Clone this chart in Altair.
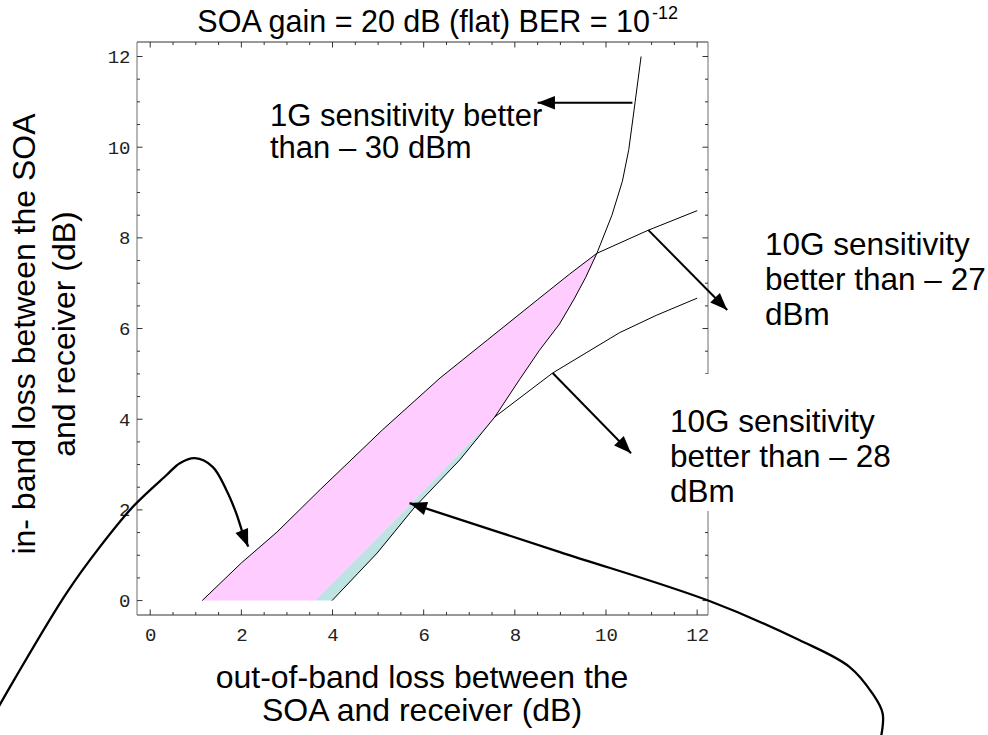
import math
import altair as alt
import pandas as pd

# ---------------- data ----------------
x_tick_values = [0, 2, 4, 6, 8, 10, 12]
y_tick_values = [0, 2, 4, 6, 8, 10, 12]
minor_tick_values = [0, 0.5, 1, 1.5, 2, 2.5, 3, 3.5, 4, 4.5, 5, 5.5, 6, 6.5,
                     7, 7.5, 8, 8.5, 9, 9.5, 10, 10.5, 11, 11.5, 12]

# 10G, sensitivity better than -27 dBm (upper boundary)
c27_x = [1.14, 2.0, 2.78, 3.73, 5.09, 6.36, 7.4, 8.49, 9.2, 9.8, 10.93, 12.0]
c27_y = [0.0, 0.83, 1.51, 2.45, 3.76, 4.91, 5.75, 6.63, 7.2, 7.66, 8.17, 8.6]
# 1G, sensitivity better than -30 dBm
c1g_x = [7.56, 8.1, 8.54, 8.98, 9.3, 9.55, 9.8, 10.13, 10.36, 10.5, 10.64, 10.77]
c1g_y = [4.05, 4.87, 5.52, 6.1, 6.65, 7.12, 7.66, 8.5, 9.25, 9.95, 11.0, 12.0]
# 10G, sensitivity better than -28 dBm
c28_x = [3.99, 4.98, 5.81, 6.79, 7.56, 8.83, 10.3, 11.1, 12.0]
c28_y = [0.0, 1.05, 2.07, 3.1, 4.05, 5.02, 5.91, 6.29, 6.67]
# lower edge of the pink region (below the -28 curve crossing)
pink_edge_x = [7.48, 5.66, 3.62]
pink_edge_y = [3.97, 2.07, 0.0]

# annotation arrows (tail ... tip)
arrow_1g_x = [10.58, 8.50]
arrow_1g_y = [10.98, 10.98]
arrow_27_x = [10.93, 12.66]
arrow_27_y = [8.17, 6.41]
arrow_28_x = [8.83, 10.55]
arrow_28_y = [5.02, 3.25]
curve_left_x = [-3.74, -2.97, -1.84, -1.10, -0.37, 0.36, 0.65, 0.98, 1.37, 1.67, 1.89, 2.03, 2.15]
curve_left_y = [-3.08, -1.72, 0.16, 1.19, 2.08, 2.77, 3.03, 3.14, 2.95, 2.44, 1.92, 1.49, 1.19]
curve_right_x = [16.02, 16.07, 15.84, 15.34, 14.24, 12.27, 8.99, 5.69]
curve_right_y = [-3.08, -2.49, -2.04, -1.46, -0.87, -0.01, 1.07, 2.15]

title_text = "SOA gain = 20 dB (flat) BER = 10"
title_sup = "-12"
x_title_lines = ["out-of-band loss between the", "SOA and receiver (dB)"]
y_title_lines = ["in- band loss between the SOA", "and receiver (dB)"]
label_1g = ["1G sensitivity better", "than \u2013 30 dBm"]
label_27 = ["10G sensitivity", "better than \u2013 27", "dBm"]
label_28 = ["10G sensitivity", "better than \u2013 28", "dBm"]

# ---------------- layout ----------------
W, H = 571, 573
PAD = {"left": 137, "top": 42, "right": 280, "bottom": 120}
X_DOM = [-0.29, 12.238]
Y_DOM = [-0.318, 12.32]
PX_X = W / (X_DOM[1] - X_DOM[0])
PX_Y = H / (Y_DOM[1] - Y_DOM[0])


def to_x(px):
    return X_DOM[0] + (px - PAD["left"]) / PX_X


def to_y(py):
    return Y_DOM[1] - (py - PAD["top"]) / PX_Y


PINK = "#FFCCFF"
TEAL = "#BFE2E3"
FONT = "Liberation Sans"

xs = alt.Scale(domain=X_DOM, nice=False, zero=False)
ys = alt.Scale(domain=Y_DOM, nice=False, zero=False)
x_axis = alt.Axis(values=x_tick_values, ticks=False, domain=False, grid=False,
                  labelFont="Liberation Mono", labelFontSize=19, labelColor="#222",
                  labelPadding=10, labelFlush=False, title=None)
y_axis = alt.Axis(values=y_tick_values, ticks=False, domain=False, grid=False,
                  labelFont="Liberation Mono", labelFontSize=19, labelColor="#222",
                  labelPadding=7, labelFlush=False, title=None)
X = alt.X("x:Q", scale=xs, axis=x_axis)
Y = alt.Y("y:Q", scale=ys, axis=y_axis)


def poly(xv, yv):
    return pd.DataFrame({"x": xv, "y": yv, "i": list(range(len(xv)))})


# ---------------- frame & ticks ----------------
frame_df = pd.DataFrame({
    "x": [X_DOM[0], X_DOM[0], X_DOM[0], X_DOM[1]],
    "x2": [X_DOM[1], X_DOM[1], X_DOM[0], X_DOM[1]],
    "y": [Y_DOM[0], Y_DOM[1], Y_DOM[0], Y_DOM[0]],
    "y2": [Y_DOM[0], Y_DOM[1], Y_DOM[1], Y_DOM[1]],
    "c": ["#333333", "#333333", "#6e6e6e", "#6e6e6e"],
})
frame = alt.Chart(frame_df).mark_rule(strokeWidth=1).encode(
    x=X, x2="x2:Q", y=Y, y2="y2:Q", color=alt.Color("c:N", scale=None))

MAJ, MIN = 5.5, 3.0
rows = []
for t in minor_tick_values:
    L = MAJ if t in x_tick_values else MIN
    ly, lx = L / PX_Y, L / PX_X
    rows.append((t, t, Y_DOM[0], Y_DOM[0] + ly))   # bottom
    rows.append((t, t, Y_DOM[1], Y_DOM[1] - ly))   # top
    rows.append((X_DOM[0], X_DOM[0] + lx, t, t))   # left
    rows.append((X_DOM[1], X_DOM[1] - lx, t, t))   # right
ticks_df = pd.DataFrame(rows, columns=["x", "x2", "y", "y2"])
ticks = alt.Chart(ticks_df).mark_rule(strokeWidth=1, color="#333333").encode(
    x=X, x2="x2:Q", y=Y, y2="y2:Q")

# ---------------- filled regions ----------------
pink_x = c27_x[:10] + c1g_x[:6][::-1] + pink_edge_x
pink_y = c27_y[:10] + c1g_y[:6][::-1] + pink_edge_y
teal_x = [pink_edge_x[-1]] + c28_x[:5] + pink_edge_x[:2]
teal_y = [pink_edge_y[-1]] + c28_y[:5] + pink_edge_y[:2]

pink = alt.Chart(poly(pink_x, pink_y)).mark_line(
    fill=PINK, strokeOpacity=0).encode(x=X, y=Y, order="i:Q")
teal = alt.Chart(poly(teal_x, teal_y)).mark_line(
    fill=TEAL, strokeOpacity=0).encode(x=X, y=Y, order="i:Q")

# ---------------- boundary curves ----------------
curves_df = pd.concat([
    poly(c27_x, c27_y).assign(s="c27"),
    poly(c1g_x, c1g_y).assign(s="c1g"),
    poly(c28_x, c28_y).assign(s="c28"),
])
curves = alt.Chart(curves_df).mark_line(color="black", strokeWidth=1).encode(
    x=X, y=Y, order="i:Q", detail="s:N")

# ---------------- white box behind the -28 label ----------------
box_df = pd.DataFrame({"x": [to_x(655)], "x2": [to_x(905)],
                       "y": [to_y(374)], "y2": [to_y(511)]})
box = alt.Chart(box_df).mark_rect(color="white").encode(
    x=X, x2="x2:Q", y=Y, y2="y2:Q")

# ---------------- arrows ----------------
straight_df = pd.concat([
    poly(arrow_1g_x, arrow_1g_y).assign(s="a1"),
    poly(arrow_27_x, arrow_27_y).assign(s="a27"),
    poly(arrow_28_x, arrow_28_y).assign(s="a28"),
])
straight = alt.Chart(straight_df).mark_line(color="black", strokeWidth=2).encode(
    x=X, y=Y, order="i:Q", detail="s:N")

big_df = pd.concat([
    poly(curve_left_x, curve_left_y).assign(s="L"),
    poly(curve_right_x, curve_right_y).assign(s="R"),
])
big = alt.Chart(big_df).mark_line(color="black", strokeWidth=2.3,
                                  interpolate="catmull-rom").encode(
    x=X, y=Y, order="i:Q", detail="s:N")


def head(xv, yv):
    dxp = (xv[-1] - xv[-2]) * PX_X
    dyp = -(yv[-1] - yv[-2]) * PX_Y
    ang = math.degrees(math.atan2(dxp, -dyp)) % 360
    return (xv[-1], yv[-1], ang)


heads_df = pd.DataFrame([
    head(arrow_1g_x, arrow_1g_y),
    head(arrow_27_x, arrow_27_y),
    head(arrow_28_x, arrow_28_y),
    head(curve_left_x, curve_left_y),
    head(curve_right_x, curve_right_y),
], columns=["x", "y", "angle"])
heads = alt.Chart(heads_df).mark_point(
    shape="M0,0L-0.78,2L0.78,2Z", filled=True, color="black", opacity=1,
    size=300, strokeWidth=0).encode(
    x=X, y=Y, angle=alt.Angle("angle:Q", scale=None))

# ---------------- texts ----------------
def text_layer(lines, px, py, size, line_h, align="left", angle=0):
    df = pd.DataFrame({"x": [to_x(px)], "y": [to_y(py)], "t": ["\n".join(lines)]})
    props = dict(align=align, baseline="alphabetic", font=FONT, fontSize=size,
                 lineBreak="\n", lineHeight=line_h, color="black")
    if angle:
        props["angle"] = angle
    return alt.Chart(df).mark_text(**props).encode(x=X, y=Y, text="t:N")


texts = [
    text_layer([title_text], 650, 32, 30.5, 31, align="right"),
    text_layer([title_sup], 652, 19, 18, 20, align="left"),
    text_layer(x_title_lines, 422, 688, 32, 33, align="center"),
    text_layer([y_title_lines[0]], 35, 334, 32, 34, align="center", angle=270),
    text_layer([y_title_lines[1]], 75, 334, 32, 34, align="center", angle=270),
    text_layer(label_1g, 270, 126, 31, 32),
    text_layer(label_27, 765, 255, 31.5, 35),
    text_layer(label_28, 670, 432, 31.5, 35),
]

chart = alt.layer(
    pink, teal, curves, frame, ticks, box, *texts, straight, big, heads
).properties(
    width=W, height=H,
    autosize=alt.AutoSizeParams(type="none"),
    padding=PAD,
    background="white",
).configure_view(strokeWidth=0)

chart.save("out.html", embed_options={"renderer": "svg", "actions": False})
